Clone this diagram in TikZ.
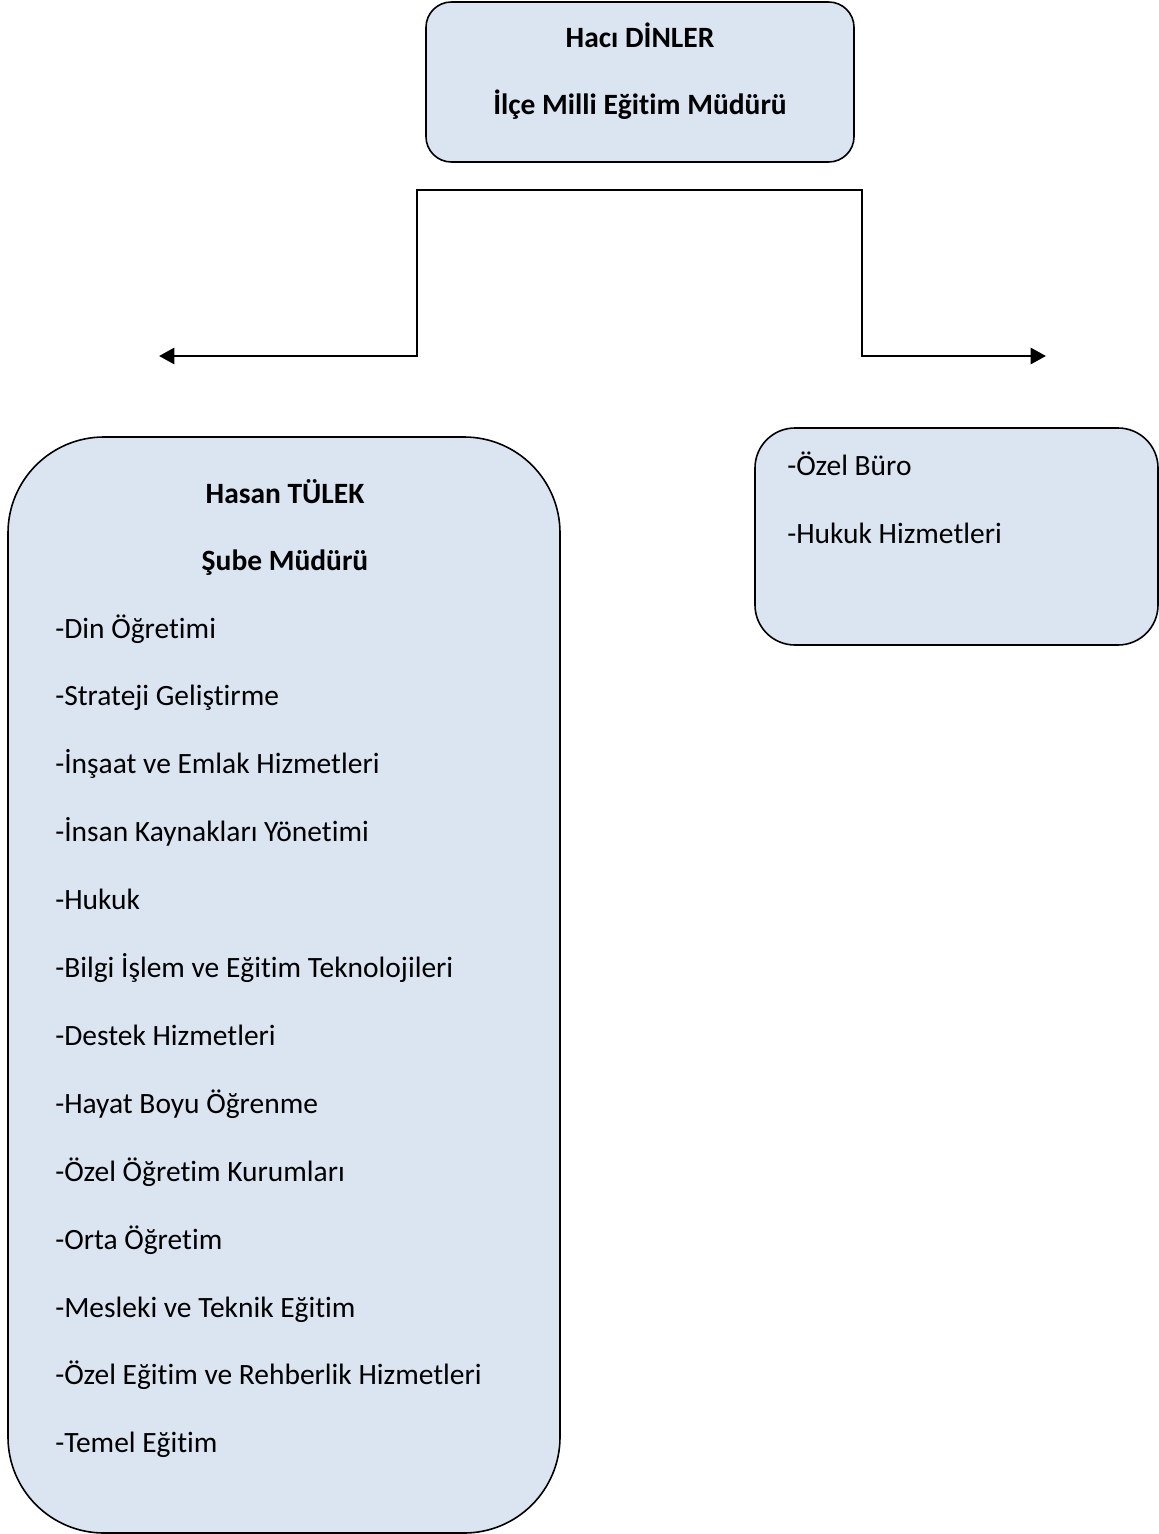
\documentclass[tikz,border=0pt]{standalone}
\usepackage{fontspec}
\setmainfont{Carlito}[Ligatures=NoCommon]
\usetikzlibrary{arrows.meta}
\definecolor{boxfill}{RGB}{219,229,241}
\begin{document}
\begin{tikzpicture}[x=0.75pt,y=-0.75pt,
  boxstyle/.style={draw=black,line width=1.2pt,fill=boxfill},
  conn/.style={line width=2.2pt,{Triangle[length=11.5pt,width=12pt]}-{Triangle[length=11.5pt,width=12pt]}},
  txt/.style={font=\fontsize{22.1}{26}\selectfont,inner sep=0pt},
  btxt/.style={txt,font=\fontsize{22.1}{26}\selectfont\bfseries}]
\useasboundingbox (0,0) rectangle (1159,1534);
% top box
\draw[boxstyle,rounded corners=19pt] (426,2) rectangle (854,162);
\node[btxt,anchor=base] (t1) at (640,48) {Hacı DİNLER};
\node[btxt,anchor=base] (t2) at (640,115) {İlçe Milli Eğitim Müdürü};
% connector
\coordinate (jl) at (417,190);
\coordinate (jr) at (862,190);
\coordinate (al) at (159,356);
\coordinate (ar) at (1046,356);
\draw[conn] (al) -| (jl) -- (jr) |- (ar);
% left box
\draw[boxstyle,rounded corners=72pt] (8,437) rectangle (560,1533);
\node[btxt,anchor=base] (l1) at (285,503) {Hasan TÜLEK};
\node[btxt,anchor=base] (l2) at (285,570.5) {Şube Müdürü};
\foreach \t [count=\i from 0] in {-Din Öğretimi,-Strateji Geliştirme,-İnşaat ve Emlak Hizmetleri,-İnsan Kaynakları Yönetimi,-Hukuk,-Bilgi İşlem ve Eğitim Teknolojileri,-Destek Hizmetleri,-Hayat Boyu Öğrenme,-Özel Öğretim Kurumları,-Orta Öğretim,-Mesleki ve Teknik Eğitim,-Özel Eğitim ve Rehberlik Hizmetleri,-Temel Eğitim}
  \node[txt,anchor=base west] (i\i) at (55,{638+67.9*\i}) {\t};
% right box
\draw[boxstyle,rounded corners=30pt] (755,428) rectangle (1158,645);
\node[txt,anchor=base west] (r1) at (787,475) {-Özel Büro};
\node[txt,anchor=base west] (r2) at (787,543) {-Hukuk Hizmetleri};
\end{tikzpicture}
\end{document}
